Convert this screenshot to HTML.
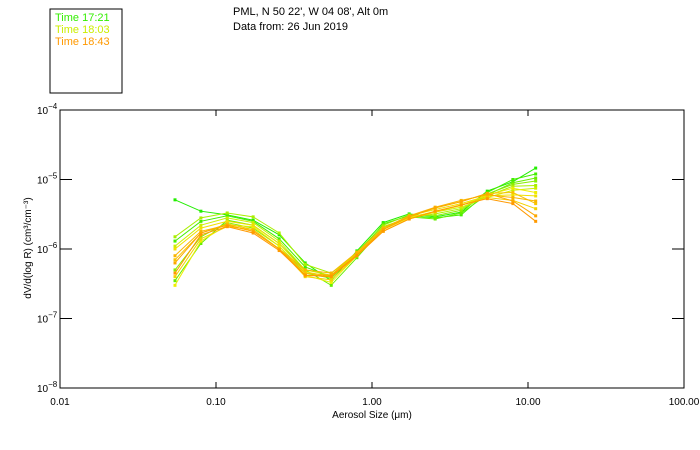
<!DOCTYPE html>
<html><head><meta charset="utf-8"><style>
body{margin:0;background:#fff}
svg{display:block;font-family:"Liberation Sans",sans-serif}
</style></head><body>
<svg id="chart" width="700" height="450">
<rect x="50" y="9" width="72" height="84" fill="none" stroke="#000"/>
<text x="55" y="21" font-size="11" fill="#33ee00">Time 17:21</text>
<text x="55" y="33" font-size="11" fill="#ccee00">Time 18:03</text>
<text x="55" y="45" font-size="11" fill="#ff9900">Time 18:43</text>
<text x="233" y="15" font-size="11">PML, N 50 22', W 04 08', Alt 0m</text>
<text x="233" y="30" font-size="11">Data from: 26 Jun 2019</text>
<rect x="60" y="110" width="624" height="278" fill="none" stroke="#000"/>
<g id="axes"></g>
<g id="series"></g>
<text x="372" y="418" font-size="10" text-anchor="middle">Aerosol Size (μm)</text>
<text transform="translate(31,248) rotate(-90)" font-size="10" text-anchor="middle">dV/d(log R) (cm³/cm⁻³)</text>
</svg>
<script>
const sizes=[0.0546,0.080,0.118,0.173,0.254,0.373,0.548,0.80,1.18,1.73,2.54,3.73,5.48,8.0,11.2];
const xTicks=[0.01,0.1,1,10,100];
const xTickLabels=["0.01","0.10","1.00","10.00","100.00"];
const yTickExps=[-4,-5,-6,-7,-8];
const s1=[5.1,3.5,3.1,2.6,1.6,0.63,0.35,0.94,2.4,3.2,2.9,3.4,6.8,9.3,14.6];
const s2=[1.3,2.5,3.0,2.5,1.4,0.55,0.4,0.8,2.3,3.0,2.8,3.1,6.5,10,12];
const s3=[0.35,1.2,2.6,2.2,1.2,0.5,0.3,0.75,2.0,2.9,2.7,3.3,6.0,9.0,10.5];
const s4=[0.5,1.5,2.4,2.0,1.1,0.45,0.38,0.9,2.2,3.1,3.0,3.6,6.2,8.5,9.5];
const s5=[1.5,2.8,3.3,2.9,1.7,0.6,0.45,0.85,2.1,2.8,3.2,3.8,5.8,8.0,8.2];
const s6=[1.1,2.2,2.8,2.4,1.3,0.5,0.42,0.9,2.0,2.9,3.4,4.0,5.5,7.0,7.5];
const s7=[0.3,1.3,2.2,2.1,1.1,0.42,0.33,0.8,1.9,2.8,3.5,4.2,6.0,7.5,6.5];
const s8=[1.0,2.0,2.5,2.2,1.2,0.47,0.4,0.85,1.9,3.0,3.7,4.5,5.8,6.0,5.8];
const s9=[0.4,1.4,2.1,1.9,1.0,0.4,0.36,0.8,1.8,2.7,3.4,4.3,5.5,5.0,3.8];
const s10=[0.7,1.7,2.3,1.9,1.0,0.45,0.42,0.85,1.9,2.9,3.9,4.8,6.3,6.5,4.5];
const s11=[0.8,1.8,2.2,1.8,1.0,0.5,0.45,0.9,2.0,3.0,4.0,5.0,6.0,5.5,4.9];
const s12=[0.63,1.7,2.2,1.8,1.0,0.42,0.42,0.82,1.9,2.9,3.9,4.8,6.3,4.9,3.0];
const s13=[0.45,1.6,2.1,1.7,0.95,0.42,0.4,0.8,1.8,2.7,3.5,4.3,5.3,4.5,2.5];
const allSeries=[s1,s2,s3,s4,s5,s6,s7,s8,s9,s10,s11,s12,s13];
const valueScale=1e-6;
const NS="http://www.w3.org/2000/svg";
function xPos(v){return 60+156*Math.log10(v/0.01);}
function yPos(v){return 110+69.5*(-4-Math.log10(v));}
function mk(tag,attrs,parent){const e=document.createElementNS(NS,tag);for(const k in attrs)e.setAttribute(k,attrs[k]);parent.appendChild(e);return e;}
const axes=document.getElementById('axes');
xTicks.forEach((t,i)=>{
  const x=xPos(t);
  const tk=mk('line',{x1:x,x2:x,y1:388,y2:382,stroke:'#000'},axes);
  
  
  const tk2=mk('line',{x1:x,x2:x,y1:110,y2:116,stroke:'#000'},axes);
  
  
  const lb=mk('text',{x:x,y:405,'font-size':10,'text-anchor':'middle'},axes);
  lb.textContent=xTickLabels[i];
  
  
});
yTickExps.forEach(e=>{
  const y=yPos(Math.pow(10,e));
  const tk=mk('line',{x1:60,x2:72,y1:y,y2:y,stroke:'#000'},axes);
  
  
  const tk2=mk('line',{x1:684,x2:672,y1:y,y2:y,stroke:'#000'},axes);
  
  
  const lb=mk('text',{x:37,y:y+4,'font-size':10},axes);
  
  
  lb.textContent='10';
  const sp=mk('tspan',{dy:-5,'font-size':8},lb);
  sp.textContent=String(e).replace('-','−');
});
function color(i,n){
  const t=i/(n-1);
  let r,g,b;
  if(t<0.5){const u=t/0.5;r=Math.round(0x22+u*(0xee-0x22));g=0xee;b=0;}
  else{const u=(t-0.5)/0.5;r=Math.round(0xee+u*(0xff-0xee));g=Math.round(0xee-u*(0xee-0x99));b=0;}
  return `rgb(${r},${g},${b})`;
}
const sg=document.getElementById('series');
allSeries.forEach((s,i)=>{
  const c=color(i,allSeries.length);
  const g=mk('g',{},sg);
  
  
  const pts=s.map((v,j)=>xPos(sizes[j]).toFixed(1)+','+yPos(v*valueScale).toFixed(1)).join(' ');
  const pl=mk('polyline',{points:pts,fill:'none',stroke:c,'stroke-width':1},g);
  
  
  s.forEach((v,j)=>{
    const r=mk('rect',{x:xPos(sizes[j])-1.5,y:yPos(v*valueScale)-1.5,width:3,height:3,fill:c},g);
    
    
  });
});
</script>
</body></html>
